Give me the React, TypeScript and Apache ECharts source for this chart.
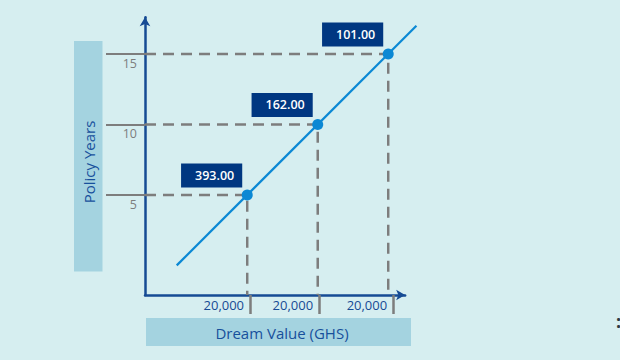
import React, { useEffect, useRef } from 'react';
import * as echarts from 'echarts';

// ---- data ----
const policyYears = [5, 10, 15];
const dreamPositions = [5, 10, 15];
const valueLabels = ['393.00', '162.00', '101.00'];
const xTickPositions = [5.2, 10.1, 15.35];
const xTickLabels = ['20,000', '20,000', '20,000'];
const yTickValues = [5, 10, 15];
const yTickLabels = ['5', '10', '15'];
const trendStart = [0, 0];
const trendEnd = [17, 17];

// scale: 14.1 px per unit in both directions
const X_MIN = -2.25;
const Y_MIN = -2.1;
const X_ARROW = 16.2;
const Y_ARROW = 17.6;
const X_WIDE = 17.5;
const Y_WIDE = 18.5;
const PX = 14.1;

const FONT = '"Open Sans", "Noto Sans", sans-serif';
const AXIS_BLUE = '#164b94';
const NAVY = '#003781';
const LINE_BLUE = '#0b88d4';
const GRAY = '#7d7d7d';

export default function App() {
  const ref = useRef<HTMLDivElement>(null);

  useEffect(() => {
    if (!ref.current) return;
    const chart = echarts.init(ref.current, null, { renderer: 'svg' });

    const left = 145;
    const bottom = 295;

    const dashedSeries = policyYears.map((y, i) => ({
      type: 'line',
      name: 'guide' + i,
      xAxisIndex: 0,
      yAxisIndex: 0,
      data: [
        [X_MIN, y],
        [dreamPositions[i], y],
        [dreamPositions[i], Y_MIN],
      ],
      showSymbol: false,
      symbol: 'none',
      z: 1,
      lineStyle: { color: GRAY, width: 2.5, type: [11, 7] },
      silent: true,
    }));

    chart.setOption({
      animation: false,
      backgroundColor: '#d6eef0',
      grid: [
        {
          left,
          top: bottom - (Y_WIDE - Y_MIN) * PX,
          width: (X_WIDE - X_MIN) * PX,
          height: (Y_WIDE - Y_MIN) * PX,
        },
        {
          left,
          top: bottom - (Y_ARROW - Y_MIN) * PX,
          width: (X_ARROW - X_MIN) * PX,
          height: (Y_ARROW - Y_MIN) * PX,
        },
      ],
      xAxis: [
        {
          type: 'value',
          gridIndex: 0,
          min: X_MIN,
          max: X_WIDE,
          axisLine: { show: false, onZero: false },
          axisTick: {
            show: true,
            customValues: xTickPositions,
            length: 19,
            lineStyle: { color: GRAY, width: 2.5 },
          },
          axisLabel: {
            show: true,
            customValues: xTickPositions,
            formatter: (v: number) => {
              const idx = xTickPositions.findIndex((p) => Math.abs(p - v) < 1e-6);
              return idx >= 0 ? xTickLabels[idx] : '';
            },
            align: 'right',
            verticalAlign: 'top',
            padding: [0, 6, 0, 0],
            margin: 3,
            color: AXIS_BLUE,
            fontSize: 13,
            fontFamily: FONT,
          },
          splitLine: { show: false },
        },
        {
          type: 'value',
          gridIndex: 1,
          min: X_MIN,
          max: X_ARROW,
          axisLine: {
            show: true,
            onZero: false,
            symbol: ['none', 'arrow'],
            symbolSize: [8, 9],
            lineStyle: { color: AXIS_BLUE, width: 2.5 },
          },
          axisTick: { show: false },
          axisLabel: { show: false },
          splitLine: { show: false },
        },
      ],
      yAxis: [
        {
          type: 'value',
          gridIndex: 0,
          min: Y_MIN,
          max: Y_WIDE,
          axisLine: { show: false, onZero: false },
          axisTick: {
            show: true,
            customValues: yTickValues,
            length: 39,
            lineStyle: { color: GRAY, width: 2 },
          },
          axisLabel: {
            show: true,
            customValues: yTickValues,
            formatter: (v: number) => {
              const idx = yTickValues.findIndex((p) => Math.abs(p - v) < 1e-6);
              return idx >= 0 ? yTickLabels[idx] : '';
            },
            verticalAlign: 'top',
            padding: [3, 0, 0, 0],
            margin: 8,
            color: GRAY,
            fontSize: 12.5,
            fontFamily: FONT,
          },
          splitLine: { show: false },
        },
        {
          type: 'value',
          gridIndex: 1,
          min: Y_MIN,
          max: Y_ARROW,
          axisLine: {
            show: true,
            onZero: false,
            symbol: ['none', 'arrow'],
            symbolSize: [8, 9],
            lineStyle: { color: AXIS_BLUE, width: 2.5 },
          },
          axisTick: { show: false },
          axisLabel: { show: false },
          splitLine: { show: false },
        },
      ],
      graphic: [
        {
          type: 'rect',
          shape: { x: 74, y: 41, width: 28.5, height: 230.5 },
          style: { fill: '#a4d3e0' },
          z: 0,
        },
        {
          type: 'text',
          x: 88.5,
          y: 162,
          rotation: Math.PI / 2,
          style: {
            text: 'Policy Years',
            fill: '#17509c',
            font: `15px ${FONT}`,
            align: 'center',
            verticalAlign: 'middle',
          },
        },
        {
          type: 'rect',
          shape: { x: 146, y: 318, width: 265, height: 28 },
          style: { fill: '#a4d3e0' },
          z: 0,
        },
        {
          type: 'text',
          x: 282,
          y: 332.5,
          style: {
            text: 'Dream Value (GHS)',
            fill: '#17509c',
            font: `15px ${FONT}`,
            align: 'center',
            verticalAlign: 'middle',
          },
        },
        {
          type: 'text',
          x: 616,
          y: 321,
          style: {
            text: ':',
            fill: '#2d3a40',
            font: `bold 18px ${FONT}`,
            align: 'left',
            verticalAlign: 'middle',
          },
        },
      ],
      series: [
        ...dashedSeries,
        {
          type: 'line',
          name: 'trend',
          xAxisIndex: 0,
          yAxisIndex: 0,
          data: [trendStart, trendEnd],
          showSymbol: false,
          symbol: 'none',
          z: 3,
          lineStyle: { color: LINE_BLUE, width: 2.2 },
          silent: true,
        },
        {
          type: 'scatter',
          name: 'points',
          xAxisIndex: 0,
          yAxisIndex: 0,
          data: dreamPositions.map((x, i) => [x, policyYears[i]]),
          symbol: 'circle',
          symbolSize: 11,
          z: 4,
          itemStyle: { color: LINE_BLUE, opacity: 1 },
          label: {
            show: true,
            position: 'left',
            distance: 0,
            offset: [0.5, -19.5],
            formatter: (p: any) => valueLabels[p.dataIndex],
            backgroundColor: NAVY,
            color: '#ffffff',
            fontFamily: FONT,
            fontSize: 12.5,
            fontWeight: 600,
            lineHeight: 14,
            padding: [5, 8, 5, 14],
          },
          silent: true,
        },
      ],
    });

    return () => chart.dispose();
  }, []);

  return (
    <div
      ref={ref}
      style={{ position: 'fixed', left: 0, top: 0, width: 620, height: 360 }}
    />
  );
}
